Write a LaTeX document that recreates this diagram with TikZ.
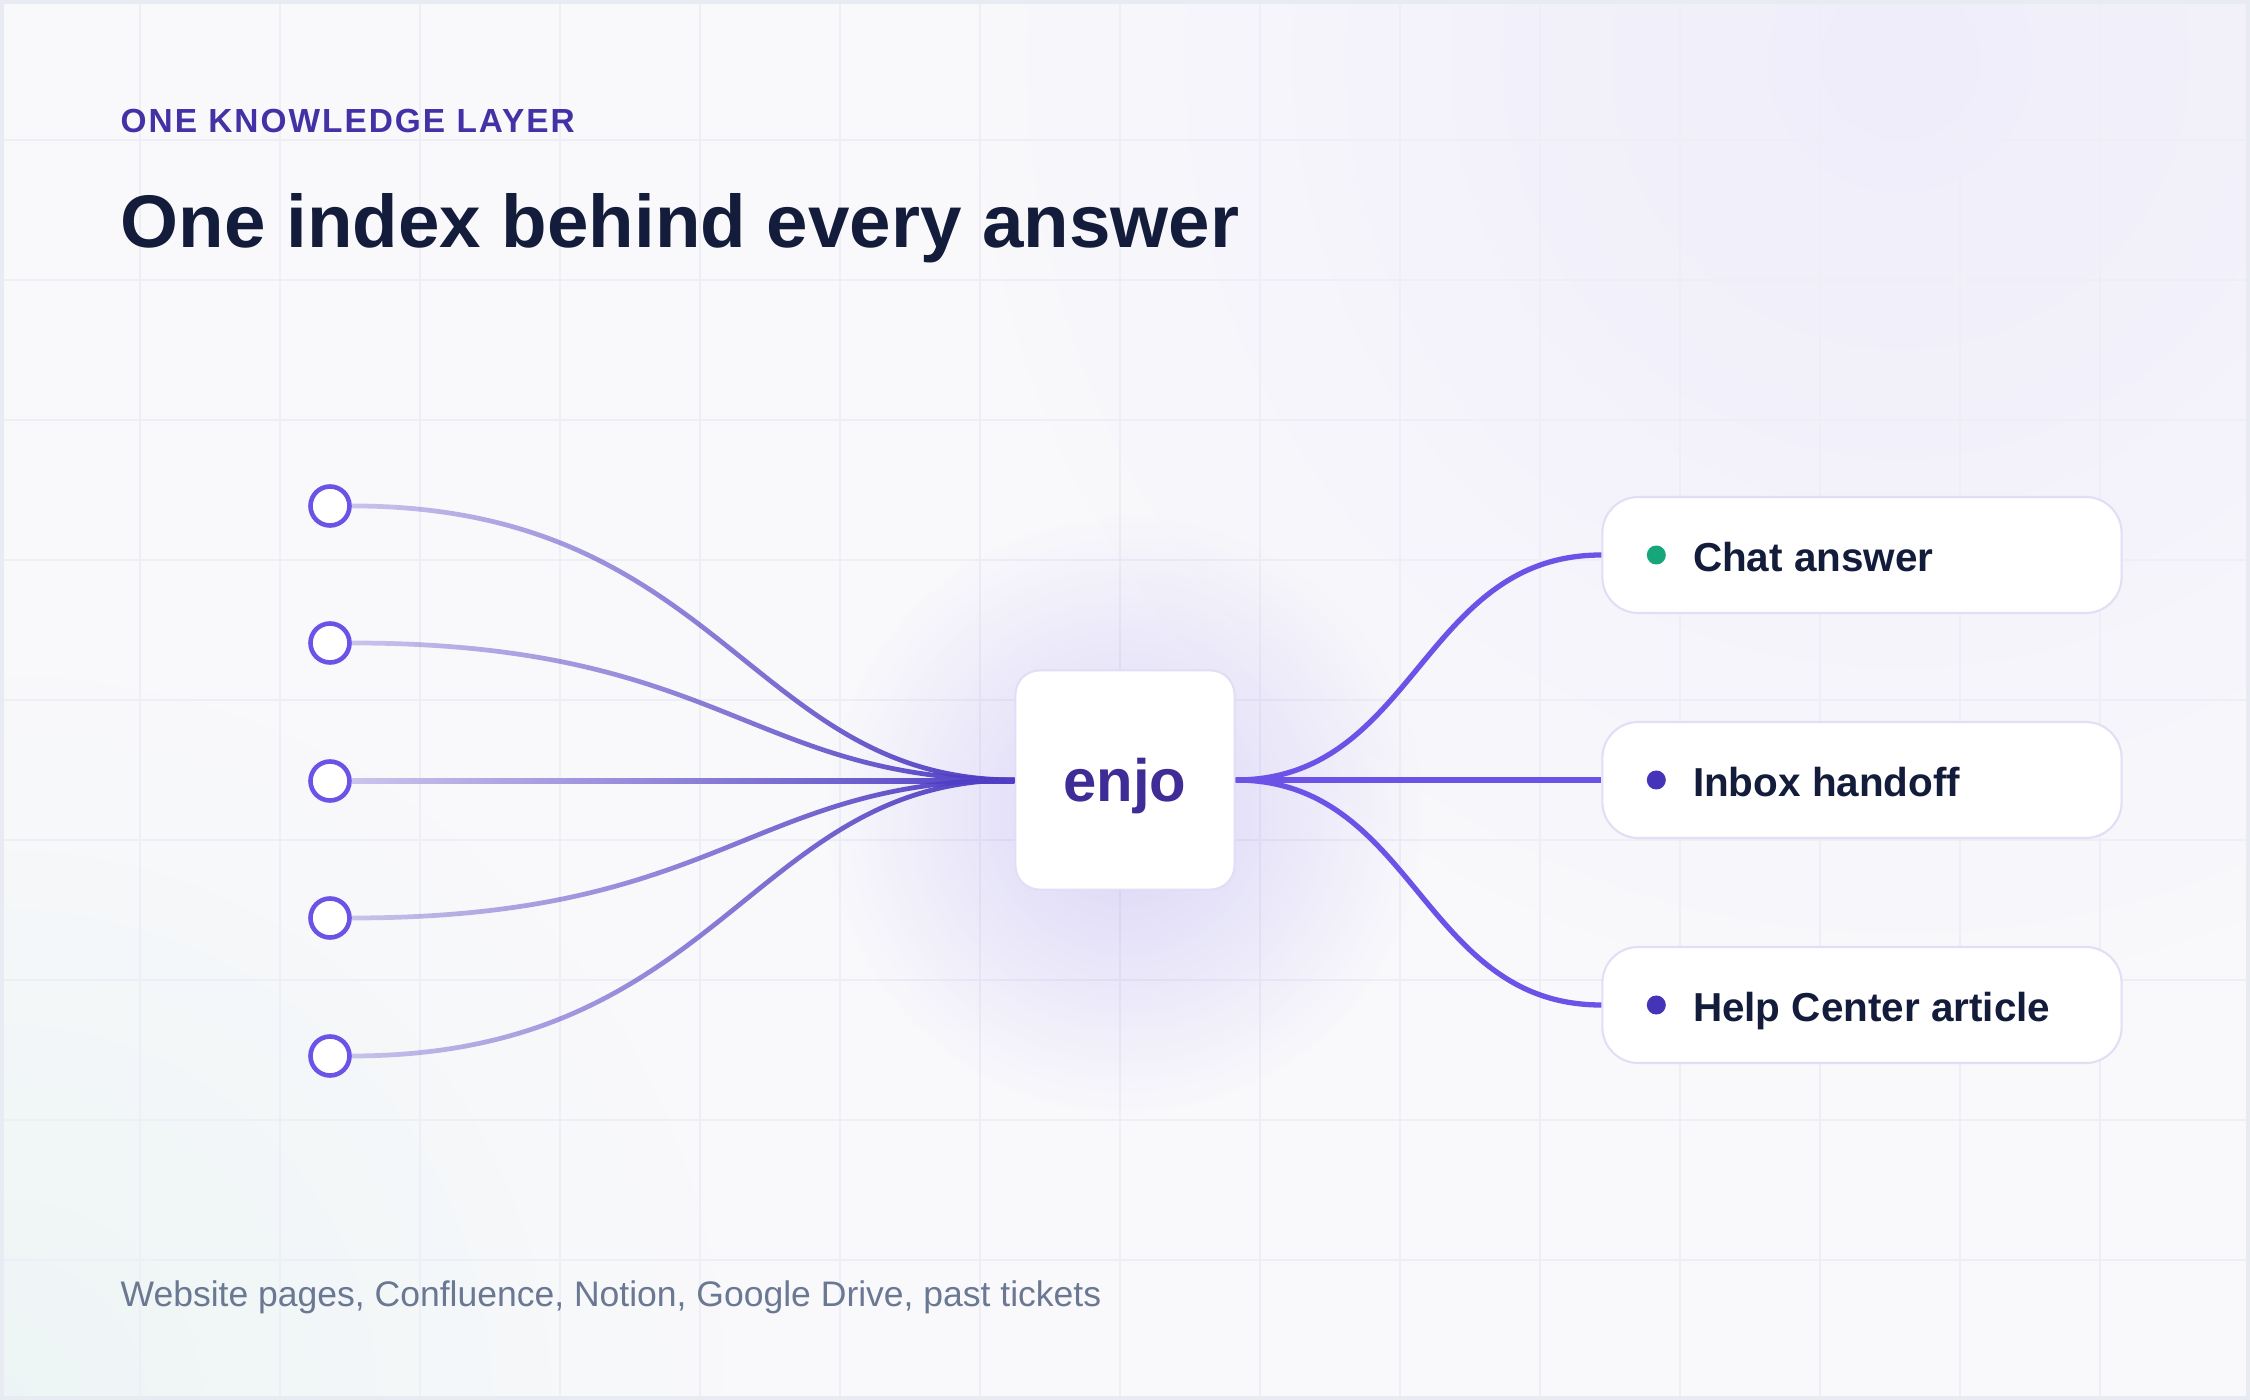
\documentclass[tikz,border=0pt]{standalone}
\usepackage{fontspec}
\setmainfont{Liberation Sans}
\usepackage{tikz}
\usetikzlibrary{calc,positioning,fadings}
\definecolor{enjoBg}{RGB}{249,249,252}
\definecolor{enjoGrid}{RGB}{238,238,246}
\definecolor{enjoFrame}{RGB}{233,235,243}
\definecolor{enjoPurple}{RGB}{108,82,230}
\definecolor{enjoPurpleDark}{RGB}{67,49,166}
\definecolor{enjoHubText}{RGB}{63,44,151}
\definecolor{enjoLine}{RGB}{80,62,196}
\definecolor{enjoInk}{RGB}{19,28,58}
\definecolor{enjoGray}{RGB}{107,120,148}
\definecolor{enjoBorder}{RGB}{226,222,245}
\definecolor{enjoGreen}{RGB}{23,165,122}
\definecolor{enjoDot}{RGB}{69,51,184}
\tikzfading[name=linefade, left color=transparent!72, right color=transparent!0]
\tikzfading[name=softglow, inner color=transparent!0, outer color=transparent!100]

\begin{document}
\begin{tikzpicture}[x=0.01cm,y=-0.01cm,
    source/.style={circle, draw=enjoPurple, line width=1.3pt, fill=white, minimum size=0.39cm, inner sep=0pt},
    hubbox/.style={rectangle, rounded corners=0.24cm, draw=enjoBorder, line width=0.6pt, fill=white,
        minimum width=2.19cm, minimum height=2.19cm, inner sep=0pt, text depth=0pt,
        text=enjoHubText, font=\fontsize{17}{20}\selectfont\bfseries},
    outbox/.style={rectangle, rounded corners=0.36cm, draw=enjoBorder, line width=0.6pt, fill=white,
        minimum width=5.19cm, minimum height=1.16cm, inner sep=0pt},
    outdot/.style={circle, minimum size=0.19cm, inner sep=0pt},
    outlabel/.style={anchor=base west, inner sep=0pt, text=enjoInk, font=\fontsize{11.5}{14}\selectfont\bfseries},
    fanin/.style={enjoLine, line width=1.35pt, path fading=linefade},
    fanout/.style={enjoPurple, line width=1.5pt}]
    \useasboundingbox (0,0) rectangle (2250,1400);

    % background
    \fill[enjoBg] (0,0) rectangle (2250,1400);
    \begin{scope}
        \clip (0,0) rectangle (2250,1400);
        \fill[enjoPurple, opacity=0.07, path fading=softglow] (1900,60) circle (950);
        \fill[enjoGreen, opacity=0.05, path fading=softglow] (0,1400) circle (750);
    \end{scope}

    % grid
    \foreach \gx in {140,280,...,2100}
        \draw[enjoGrid, line width=0.5pt] (\gx,0) -- (\gx,1400);
    \foreach \gy in {140,280,...,1260}
        \draw[enjoGrid, line width=0.5pt] (0,\gy) -- (2250,\gy);

    % frame
    \draw[enjoFrame, line width=1.15pt] (2,2) rectangle (2248,1398);

    % headings
    \node[anchor=base west, inner sep=0pt, text=enjoPurpleDark,
        font=\fontsize{9.5}{11}\selectfont\bfseries\addfontfeature{LetterSpace=6}] (eyebrow) at (120,133) {ONE KNOWLEDGE LAYER};
    \node[anchor=base west, inner sep=0pt, text=enjoInk,
        font=\fontsize{21.2}{26}\selectfont\bfseries] (title) at (120,248) {One index behind every answer};
    \node[anchor=base west, inner sep=0pt, text=enjoGray,
        font=\fontsize{10.1}{12}\selectfont] (sources) at (120,1306) {Website pages, Confluence, Notion, Google Drive, past tickets};

    % hub glow
    \fill[enjoPurple, opacity=0.22, path fading=softglow] (1125,815) circle (300);

    % sources
    \node[source] (s1) at (330,506) {};
    \node[source] (s2) at (330,643) {};
    \node[source] (s3) at (330,781) {};
    \node[source] (s4) at (330,918) {};
    \node[source] (s5) at (330,1056) {};

    % hub
    \node[hubbox] (hub) at (1125,780) {enjo};

    % outputs
    \node[outbox] (o1) at (1862,555) {};
    \node[outbox] (o2) at (1862,780) {};
    \node[outbox] (o3) at (1862,1005) {};
    \node[outdot, fill=enjoGreen] (d1) at ($(o1.west)+(55,0)$) {};
    \node[outdot, fill=enjoDot] (d2) at ($(o2.west)+(55,0)$) {};
    \node[outdot, fill=enjoDot] (d3) at ($(o3.west)+(55,0)$) {};
    \node[outlabel] (t1) at ($(o1.west)+(91,16)$) {Chat answer};
    \node[outlabel] (t2) at ($(o2.west)+(91,16)$) {Inbox handoff};
    \node[outlabel] (t3) at ($(o3.west)+(91,16)$) {Help Center article};

    % fan in
    \draw[fanin] (s1.east) .. controls +(370,0) and +(-264,0) .. (hub.west);
    \draw[fanin] (s2.east) .. controls +(370,0) and +(-264,0) .. (hub.west);
    \shade[left color=enjoLine!28!enjoBg, right color=enjoLine] ($(s3.east)+(0,-3)$) rectangle ($(hub.west)+(0,3)$);
    \draw[fanin] (s4.east) .. controls +(370,0) and +(-264,0) .. (hub.west);
    \draw[fanin] (s5.east) .. controls +(370,0) and +(-264,0) .. (hub.west);

    % fan out
    \draw[fanout] (hub.east) .. controls +(180,0) and +(-180,0) .. (o1.west);
    \draw[fanout] (hub.east) -- (o2.west);
    \draw[fanout] (hub.east) .. controls +(180,0) and +(-180,0) .. (o3.west);
\end{tikzpicture}
\end{document}
